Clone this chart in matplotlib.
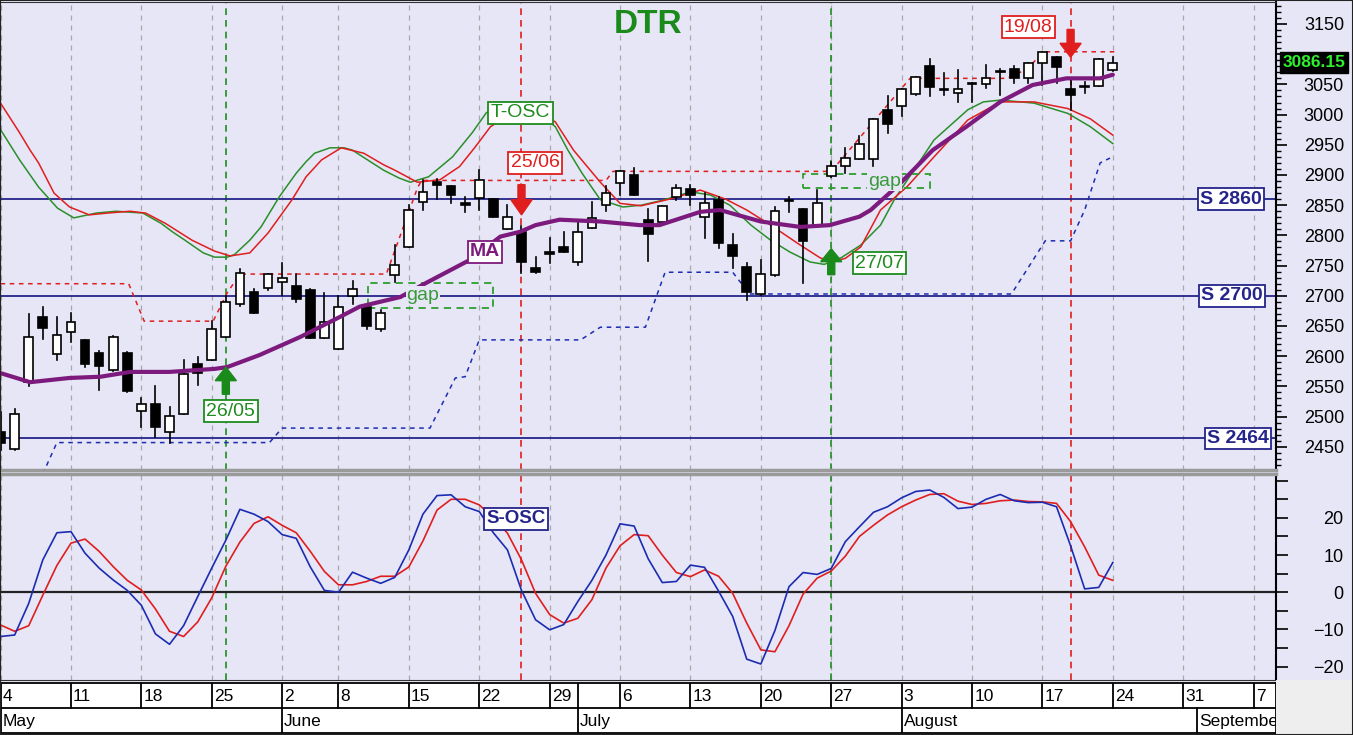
import matplotlib.pyplot as plt
from matplotlib.patches import Rectangle, FancyArrow
from matplotlib.ticker import MultipleLocator, FixedLocator, FuncFormatter
import matplotlib.transforms as mtransforms

plt.rcParams['font.family'] = ['Liberation Sans', 'DejaVu Sans']

# trading-day index: 0 = 4 May ... 79 = 24 Aug
opens = [2475, 2447, 2558, 2665, 2604, 2640, 2626, 2606, 2577, 2606,
         2510, 2521, 2475, 2504, 2587, 2594, 2631, 2686, 2706, 2713,
         2723, 2717, 2710, 2630, 2612, 2700, 2682, 2645, 2734, 2781,
         2856, 2889, 2882, 2854, 2862, 2860, 2810, 2806, 2746, 2773,
         2781, 2756, 2812, 2850, 2887, 2900, 2826, 2823, 2863, 2876,
         2831, 2859, 2784, 2747, 2703, 2734, 2859, 2843, 2816, 2898,
         2915, 2926, 2926, 3008, 3014, 3034, 3080, 3042, 3036, 3053,
         3050, 3071, 3075, 3060, 3085, 3095, 3043, 3046, 3047, 3074]
highs = [2508, 2512, 2670, 2682, 2665, 2671, 2627, 2609, 2633, 2607,
         2531, 2551, 2516, 2594, 2598, 2659, 2699, 2744, 2712, 2736,
         2755, 2736, 2711, 2704, 2700, 2725, 2686, 2677, 2784, 2850,
         2891, 2893, 2882, 2864, 2908, 2860, 2850, 2815, 2765, 2796,
         2806, 2823, 2856, 2882, 2906, 2911, 2843, 2849, 2884, 2884,
         2870, 2864, 2803, 2754, 2759, 2847, 2864, 2843, 2875, 2922,
         2944, 2965, 2992, 3030, 3042, 3063, 3092, 3069, 3074, 3053,
         3082, 3075, 3080, 3085, 3104, 3095, 3057, 3054, 3092, 3096]
lows = [2445, 2445, 2550, 2628, 2594, 2624, 2582, 2544, 2575, 2540,
        2483, 2467, 2457, 2504, 2552, 2594, 2631, 2683, 2671, 2710,
        2701, 2689, 2630, 2630, 2612, 2686, 2645, 2642, 2723, 2781,
        2842, 2860, 2854, 2839, 2842, 2831, 2810, 2737, 2737, 2755,
        2773, 2751, 2812, 2841, 2867, 2867, 2757, 2823, 2859, 2850,
        2795, 2779, 2746, 2693, 2701, 2733, 2839, 2721, 2816, 2897,
        2903, 2926, 2915, 2970, 2997, 3032, 3030, 3032, 3021, 3021,
        3044, 3032, 3053, 3053, 3049, 3052, 3008, 3035, 3047, 3072]
closes = [2457, 2504, 2632, 2646, 2635, 2657, 2587, 2583, 2632, 2542,
          2521, 2482, 2501, 2571, 2572, 2645, 2690, 2737, 2671, 2736,
          2729, 2694, 2630, 2657, 2682, 2712, 2650, 2672, 2751, 2842,
          2872, 2883, 2867, 2850, 2891, 2831, 2831, 2756, 2739, 2769,
          2773, 2806, 2828, 2870, 2906, 2867, 2803, 2849, 2878, 2867,
          2853, 2788, 2766, 2707, 2736, 2841, 2857, 2791, 2854, 2915,
          2928, 2952, 2992, 2984, 3042, 3063, 3045, 3041, 3043, 3051,
          3061, 3070, 3060, 3085, 3104, 3079, 3032, 3045, 3092, 3086.15]

ma_x = [0, 2.1, 4.9, 7.1, 9.2, 12.0, 15.2, 16.1, 18.4, 21.3, 24.1, 25.5,
        28.4, 30.2, 33.3, 35.5, 36.9, 38.0, 39.7, 42.6, 45.4, 46.8, 49.7,
        51.1, 54.0, 56.8, 58.9, 61.0, 61.8, 63.9, 66.2, 68.6, 71.0, 73.3,
        75.7, 78.1, 79.0]
ma_y = [2572, 2557, 2564, 2566, 2574, 2574, 2579, 2582, 2602, 2632, 2665, 2682,
        2698, 2721, 2759, 2798, 2806, 2817, 2826, 2823, 2817, 2817, 2839,
        2842, 2823, 2814, 2817, 2831, 2842, 2886, 2941, 2980, 3021, 3049,
        3060, 3060, 3066]

tosc_g_x = [0, 1.35, 2.7, 4.05, 5.2, 6.8, 8.2, 10.1, 11.4, 12.2, 13.1, 14.4,
            15.2, 16.1, 16.6, 17.7, 18.5, 19.8, 21.0, 21.7, 22.3, 23.4, 24.4,
            25.0, 26.6, 27.2, 28.3, 29.1, 30.4, 32.1, 33.5, 34.5, 35.3, 36.3,
            37.5, 38.6, 39.4, 40.3, 41.3, 42.6, 44.2, 45.5, 47.0, 49.0, 50.4,
            51.8, 53.3, 54.7, 56.1, 57.5, 58.5, 59.7, 61.1, 62.5, 63.5, 64.5,
            66.3, 68.7, 69.8, 71.0, 73.4, 75.8, 77.4, 79.0]
tosc_g_y = [2975, 2925, 2880, 2845, 2829, 2837, 2840, 2837, 2820, 2806, 2792, 2771,
            2764, 2764, 2768, 2792, 2814, 2864, 2903, 2922, 2936, 2945, 2945,
            2941, 2917, 2908, 2895, 2888, 2897, 2930, 2970, 3003, 3013, 3015,
            3008, 2995, 2980, 2941, 2903, 2859, 2847, 2850, 2858, 2872, 2867,
            2850, 2817, 2792, 2772, 2756, 2752, 2763, 2784, 2817, 2860, 2895,
            2958, 3008, 3021, 3024, 3019, 3002, 2980, 2952]
tosc_r_x = [0, 1.35, 2.1, 2.7, 3.8, 4.9, 6.3, 7.6, 9.2, 10.3, 11.7, 13.6,
            15.2, 16.3, 17.7, 19.0, 20.7, 21.7, 22.8, 24.2, 25.8, 27.2, 28.0,
            29.6, 31.2, 32.6, 33.7, 34.8, 36.5, 38.0, 39.4, 40.7, 42.6, 44.0,
            45.5, 47.5, 49.7, 51.5, 53.0, 54.7, 56.8, 58.2, 59.0, 60.0, 61.1,
            62.5, 64.4, 66.3, 68.7, 71.0, 73.4, 75.8, 77.4, 79.0]
tosc_r_y = [3019, 2970, 2941, 2920, 2870, 2847, 2834, 2837, 2840, 2837, 2820, 2792,
            2774, 2766, 2771, 2804, 2859, 2897, 2925, 2945, 2936, 2917, 2908,
            2888, 2892, 2914, 2946, 2980, 3005, 3006, 2988, 2941, 2888, 2853,
            2849, 2860, 2875, 2860, 2842, 2817, 2784, 2763, 2756, 2762, 2781,
            2842, 2881, 2930, 2991, 3021, 3021, 3010, 2993, 2966]

stop_x = [3.0, 4.0, 19.1, 20.0, 30.5, 32.3, 33.0, 34.0, 41.2, 42.6, 45.8,
          47.2, 52.0, 53.2, 71.8, 74.2, 76.0, 77.0, 78.1, 78.8]
stop_y = [2405, 2457, 2457, 2481, 2481, 2564, 2566, 2627, 2627, 2648, 2648,
          2739, 2739, 2703, 2703, 2791, 2791, 2842, 2920, 2928]
res_x = [0, 9.1, 10.2, 15.1, 16.1, 17.0, 27.4, 29.6, 29.9, 43.0, 43.5,
         59.0, 64.6, 71.5, 72.5, 73.3, 74.1, 79.3]
res_y = [2720, 2720, 2658, 2658, 2705, 2736, 2736, 2878, 2891, 2891, 2906,
         2906, 3060, 3060, 3071, 3085, 3104, 3104]

sosc_blue = [-11.9, -11.5, -3.0, 8.7, 16.0, 16.3, 10.5, 6.5, 3.3, 0.5,
             -3.5, -11.2, -14.0, -9.0, -1.2, 6.5, 14.0, 22.3, 21.0, 19.0,
             15.5, 14.5, 6.8, 0.5, 0.0, 5.4, 3.8, 2.4, 4.0, 11.4,
             21.0, 26.0, 26.2, 23.0, 21.7, 16.0, 11.4, 0.5, -7.4, -10.1,
             -8.7, -2.5, 3.2, 10.0, 18.4, 17.8, 9.0, 2.6, 2.9, 7.3,
             6.7, 0.3, -6.5, -18.0, -19.3, -10.3, 1.5, 5.3, 4.8, 6.4,
             13.6, 17.6, 21.5, 23.0, 25.4, 27.1, 27.5, 25.5, 22.5, 22.9,
             25.0, 26.3, 24.6, 24.1, 24.2, 23.0, 12.5, 0.9, 1.3, 8.0]
sosc_red = [-8.8, -10.5, -9.0, -0.8, 7.2, 13.2, 14.3, 11.0, 6.9, 3.2,
            0.6, -4.5, -10.5, -11.9, -8.0, -1.5, 7.0, 13.5, 18.5, 20.3,
            18.0, 16.0, 11.0, 5.6, 2.0, 2.0, 2.9, 4.3, 4.3, 6.8,
            13.8, 22.1, 25.0, 25.0, 23.5, 20.0, 15.9, 8.7, -0.3, -6.0,
            -8.3, -7.0, -2.0, 6.5, 12.5, 15.5, 15.2, 10.0, 5.3, 4.2,
            6.0, 4.3, -0.3, -8.3, -15.5, -16.0, -9.0, -0.5, 3.8, 5.7,
            9.7, 15.0, 18.0, 20.8, 23.0, 24.8, 26.3, 26.5, 24.5, 23.6,
            23.9, 24.6, 24.8, 24.4, 24.3, 23.9, 19.0, 12.2, 4.6, 3.2]

supports = [2860, 2700, 2464]
support_label_x = [87.4, 87.45, 87.9]
buy_days = [16, 59]
sell_days = [37, 76]
week_idx = [0, 5, 10, 15, 20, 24, 29, 34, 39, 44, 49, 54, 59, 64, 69, 74, 79, 84, 89]
week_labels = ['4', '11', '18', '25', '2', '8', '15', '22', '29', '6', '13', '20',
               '27', '3', '10', '17', '24', '31', '7']
month_idx = [0, 20, 41, 64, 85]
month_labels = ['May', 'June', 'July', 'August', 'September']
last_price = 3086.15

BG = '#e6e6f7'
NAVY = '#24248a'
GREEN = '#1e8c1e'
RED = '#e01e1e'
PURPLE = '#7d1a7d'
BLUE = '#1c2cb0'
XMIN, XMAX = -0.04, 90.59

fig = plt.figure(figsize=(13.53, 7.35), dpi=100)
fig.patch.set_facecolor(BG)


def frame(left, top, right, bottom):
    return [left / 1353, 1 - bottom / 735, (right - left) / 1353, (bottom - top) / 735]


ax = fig.add_axes(frame(0, 2, 1276, 470))
ax2 = fig.add_axes(frame(0, 474, 1276, 680))
axd = fig.add_axes(frame(0, 683, 1276, 733))

for a in (ax, ax2):
    a.set_facecolor(BG)
    a.set_xlim(XMIN, XMAX)
    for i in week_idx:
        a.axvline(i, color='#a8a8a8', lw=0.9, ls=(0, (4, 4)), zorder=1)
    for i in buy_days:
        a.axvline(i, color=GREEN, lw=1.2, ls=(0, (4, 3)), zorder=2)
    for i in sell_days:
        a.axvline(i, color=RED, lw=1.2, ls=(0, (4, 3)), zorder=2)
    a.set_xticks([])
    for s in ('left', 'top'):
        a.spines[s].set_color('#333333')
    a.spines['right'].set_color('black')
    a.spines['right'].set_linewidth(1.5)
    a.yaxis.tick_right()

# ---- price panel ----
ax.set_ylim(2411.6, 3186.4)
ax.spines['bottom'].set_color('#9a9a9a')
ax.spines['bottom'].set_linewidth(2.5)
ax.yaxis.set_major_locator(MultipleLocator(50))
ax.yaxis.set_minor_locator(MultipleLocator(10))
# the 3100 label sits under the last-price box
ax.yaxis.set_major_formatter(FuncFormatter(lambda v, p: '' if abs(v - 3100) < 1 else '%d' % v))
ax.tick_params(axis='y', which='major', length=8, width=1.2, labelsize=13, pad=41)
ax.tick_params(axis='y', which='minor', length=3.5, width=1)

for v in supports:
    ax.axhline(v, color=NAVY, lw=1.3, zorder=2)

ax.plot(tosc_g_x, tosc_g_y, color='#2a8f2a', lw=1.1, zorder=3, solid_joinstyle='round')
ax.plot(tosc_r_x, tosc_r_y, color=RED, lw=1.1, zorder=3, solid_joinstyle='round')
ax.plot(stop_x, stop_y, color=BLUE, lw=1.1, ls=(0, (3, 3)), zorder=3)
ax.plot(res_x, res_y, color=RED, lw=1.1, ls=(0, (3, 3)), zorder=3)

ax.add_patch(Rectangle((26.1, 2679), 8.9, 43, fill=False, ec='#2e9e2e', lw=1.3,
                       ls=(0, (4, 3)), zorder=3))
ax.add_patch(Rectangle((57.0, 2879), 9.0, 23, fill=False, ec='#2e9e2e', lw=1.3,
                       ls=(0, (4, 3)), zorder=3))

for i, (o, h, l, c) in enumerate(zip(opens, highs, lows, closes)):
    ax.plot([i, i], [l, h], color='black', lw=1.2, zorder=4)
    ax.add_patch(Rectangle((i - 0.31, min(o, c)), 0.62, max(abs(c - o), 2.0),
                           facecolor='white' if c >= o else 'black',
                           edgecolor='black', lw=1.2, zorder=5))

ax.plot(ma_x, ma_y, color=PURPLE, lw=3.0, zorder=6, solid_capstyle='round',
        solid_joinstyle='round')

for x, y in ((30.0, 2700), (62.8, 2890)):
    ax.text(x, y, 'gap', color='#3a9a3a', fontsize=14, ha='center', va='center',
            zorder=7, bbox=dict(boxstyle='square,pad=0.05', fc=BG, ec='none'))


def tag(a, x, y, s, color, size=14, weight='normal'):
    a.text(x, y, s, color=color, fontsize=size, fontweight=weight, ha='center',
           va='center', zorder=9,
           bbox=dict(boxstyle='square,pad=0.12', fc='white', ec=color, lw=1.3))


for v, x in zip(supports, support_label_x):
    tag(ax, x, v, 'S %d' % v, NAVY, 14, 'bold')
tag(ax, 16.35, 2509, '26/05', GREEN)
tag(ax, 62.43, 2754, '27/07', GREEN)
tag(ax, 37.96, 2920, '25/06', RED)
tag(ax, 73.0, 3145, '19/08', RED)
tag(ax, 36.93, 3003, 'T-OSC', GREEN)
tag(ax, 34.41, 2773, 'MA', PURPLE, 14, 'bold')


def arrow(x, tail, tip, color):
    ax.add_patch(FancyArrow(x, tail, 0, tip - tail, width=0.5, head_width=1.5,
                            head_length=abs(tip - tail) * 0.5,
                            length_includes_head=True, color=color, zorder=8))


arrow(16, 2537, 2582, '#1a8a1a')
arrow(59, 2735, 2778, '#1a8a1a')
arrow(37, 2884, 2834, RED)
arrow(76, 3141, 3095, RED)

ax.text(46.0, 0.951, 'DTR', transform=ax.get_xaxis_transform(), color='#1a8a1a',
        fontsize=24, fontweight='bold', ha='center', va='center')

trans = mtransforms.blended_transform_factory(ax.transAxes, ax.transData)
ax.text(1.005, last_price, '%.2f' % last_price, transform=trans, color='#2ef02e',
        fontsize=12.5, fontweight='bold', ha='left', va='center', clip_on=False, zorder=10,
        bbox=dict(boxstyle='square,pad=0.15', fc='black', ec='black'))

for t in ax.yaxis.get_major_ticks():
    t.label2.set_horizontalalignment('right')

# ---- oscillator panel ----
ax2.set_ylim(-23.6, 31.8)
ax2.spines['top'].set_color('#9a9a9a')
ax2.spines['top'].set_linewidth(2.5)
ax2.spines['bottom'].set_color('#333333')
ax2.axhline(0, color='#222222', lw=1.6, zorder=2)
ax2.plot(range(len(sosc_red)), sosc_red, color=RED, lw=1.2, zorder=4)
ax2.plot(range(len(sosc_blue)), sosc_blue, color=BLUE, lw=1.2, zorder=5)
tag(ax2, 36.61, 19.7, 'S-OSC', NAVY, 13.5, 'bold')
ax2.yaxis.set_major_locator(FixedLocator([-20, -10, 0, 10, 20]))
ax2.yaxis.set_minor_locator(FixedLocator([-15, -5, 5, 15, 25, 30]))
ax2.tick_params(axis='y', which='major', length=8.5, width=1.2, labelsize=13, pad=40)
ax2.tick_params(axis='y', which='minor', length=8.5, width=1.2)
for t in ax2.yaxis.get_major_ticks():
    t.label2.set_horizontalalignment('right')

# ---- date strip ----
axd.set_facecolor('white')
axd.set_xlim(XMIN, XMAX)
axd.set_ylim(0, 2)
axd.set_xticks([])
axd.set_yticks([])
for s in axd.spines.values():
    s.set_color('black')
    s.set_linewidth(1.3)
axd.axhline(1, color='black', lw=1.3)
for i, lab in zip(week_idx, week_labels):
    axd.plot([i, i], [1, 2], color='black', lw=1.3)
    axd.text(i + 0.15, 1.47, lab, fontsize=12.5, ha='left', va='center', clip_on=True)
axd.plot([41, 41], [1, 2], color='black', lw=1.3)
for i, lab in zip(month_idx, month_labels):
    axd.plot([i, i], [0, 1], color='black', lw=1.3)
    axd.text(i + 0.15, 0.47, lab, fontsize=12.5, ha='left', va='center', clip_on=True)

fig.add_artist(Rectangle((1276 / 1353, 0), 77 / 1353, 55 / 735, transform=fig.transFigure,
                         facecolor='#eeeeee', edgecolor='none'))
fig.add_artist(Rectangle((0, 0), 1, 1, transform=fig.transFigure, fill=False,
                         edgecolor='#222222', lw=1.5))

fig.savefig('out.png', dpi=100, facecolor=BG)
